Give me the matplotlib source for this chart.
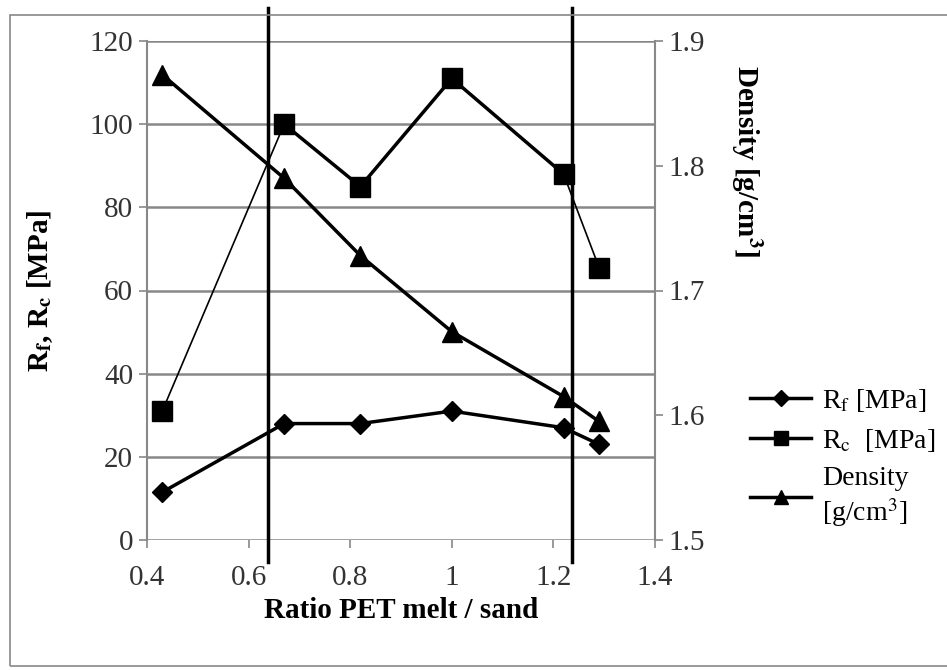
import matplotlib.pyplot as plt
from matplotlib.patches import Rectangle
from matplotlib.lines import Line2D

# data
ratio = [0.43, 0.67, 0.82, 1.0, 1.22, 1.29]
rf = [11.5, 28, 28, 31, 27, 23]
rc = [31, 100, 85, 111, 88, 65.5]
density = [1.873, 1.790, 1.728, 1.667, 1.615, 1.595]
vlines = [0.638, 1.236]

plt.rcParams['font.family'] = ['Liberation Serif', 'DejaVu Serif']
plt.rcParams['mathtext.fontset'] = 'stix'

fig = plt.figure(figsize=(9.47, 6.7), dpi=100)
fig.patches.append(Rectangle((10 / 947, 4 / 670), 940 / 947, 651 / 670,
                             transform=fig.transFigure, fill=False,
                             edgecolor='#888888', lw=1.2))

ax = fig.add_axes([147 / 947, 130 / 670, 508 / 947, 499 / 670])
ax2 = ax.twinx()

ax.set_xlim(0.4, 1.4)
ax.set_ylim(0, 120)
ax2.set_ylim(1.5, 1.9)
ax.set_xticks([0.4, 0.6, 0.8, 1.0, 1.2, 1.4])
ax.set_xticklabels(['0.4', '0.6', '0.8', '1', '1.2', '1.4'])
ax.set_yticks(range(0, 121, 20))
ax2.set_yticks([1.5, 1.6, 1.7, 1.8, 1.9])

gc = '#888888'
for a in (ax, ax2):
    for s in a.spines.values():
        s.set_visible(False)
    a.tick_params(colors='#333333', labelsize=21, length=6, width=1.2, direction='out')
    a.tick_params(axis='y', pad=4)
ax.tick_params(axis='x', pad=12, color=gc)
ax.tick_params(axis='y', color=gc)
ax2.tick_params(axis='y', color=gc)
ax.spines['left'].set_visible(True)
ax.spines['left'].set_color(gc)
ax.spines['left'].set_linewidth(1.5)
ax2.spines['right'].set_visible(True)
ax2.spines['right'].set_color(gc)
ax2.spines['right'].set_linewidth(1.5)
ax.yaxis.grid(True, color=gc, lw=1.8)
ax.set_axisbelow(True)

# Rc: thin overall, thick middle segments
ax.plot(ratio, rc, color='black', lw=1.2, zorder=3)
ax.plot(ratio[1:5], rc[1:5], color='black', lw=2.5, zorder=3)
ax.plot(ratio, rc, ls='none', marker='s', ms=14, color='black', zorder=4)
ax.plot(ratio, rf, color='black', lw=2.5, marker='D', ms=10, zorder=4)
ax2.plot(ratio, density, color='black', lw=2.5, marker='^', ms=14, zorder=4)

for v in vlines:
    ax.axvline(v, ymin=-0.045, ymax=1.066, color='black', lw=2.5,
               clip_on=False, zorder=5)

ax.set_xlabel('Ratio PET melt / sand', fontsize=21, fontweight='bold', labelpad=4)
ax.set_ylabel(r'R$_\mathbf{f}$, R$_\mathbf{c}$ [MPa]', fontsize=21,
              fontweight='bold', va='center')
ax.yaxis.set_label_coords(-0.21, 0.5)
ax2.set_ylabel(r'Density [g/cm$^\mathbf{3}$]', fontsize=21, fontweight='bold',
               rotation=-90, va='center')
ax2.yaxis.set_label_coords(1.18, 0.76)

handles = [Line2D([], [], color='black', lw=2.5, marker='D', ms=8),
           Line2D([], [], color='black', lw=2.5, marker='s', ms=10),
           Line2D([], [], color='black', lw=2.5, marker='^', ms=10)]
labels = [r'R$_\mathrm{f}$ [MPa]', r'R$_\mathrm{c}$  [MPa]', 'Density\n[g/cm$^3$]']
fig.legend(handles, labels, loc='upper left', bbox_to_anchor=(725 / 947, 1 - 362 / 670),
           frameon=False, fontsize=20, handlelength=2.2, labelspacing=0.45,
           handletextpad=0.4)

fig.savefig('out.png', dpi=100)
